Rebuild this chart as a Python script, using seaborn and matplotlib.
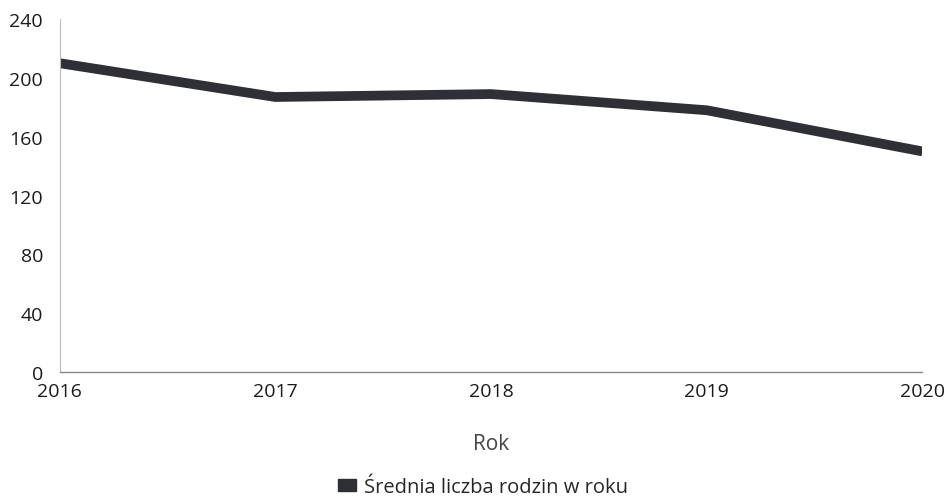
import pandas as pd
import numpy as np
import seaborn as sns
import matplotlib.pyplot as plt
from matplotlib.patches import Patch

lata = [2016, 2017, 2018, 2019, 2020]
rodziny = [210, 187, 189, 178, 150]
y_ticks = [0, 40, 80, 120, 160, 200, 240]

data = pd.DataFrame({"Rok": lata, "Rodziny": rodziny})

sns.set_style("white")
plt.rcParams['font.family'] = ['Open Sans', 'DejaVu Sans']

fig = plt.figure(figsize=(9.47, 5.02), dpi=100)
ax = fig.add_axes([0.063, 0.257, 0.911, 0.703])

sns.lineplot(x="Rok", y="Rodziny", data=data, ax=ax, color="#2f2f36", linewidth=7,
             solid_capstyle="butt")

ax.set_xlim(2016, 2020)
ax.set_ylim(0, 240)
ax.set_xticks(lata)
ax.set_yticks(y_ticks)
ax.tick_params(axis="both", length=0, labelsize=14, colors="#1a1a1a")
ax.tick_params(axis="x", pad=7)
ax.tick_params(axis="y", pad=12)

for s in ["top", "right"]:
    ax.spines[s].set_visible(False)
ax.spines["left"].set_color("#bbbbbb")
ax.spines["left"].set_linewidth(0.8)
ax.spines["bottom"].set_color("#888888")
ax.spines["bottom"].set_linestyle((0, (1, 1)))
ax.spines["bottom"].set_linewidth(1.0)

ax.set_xlabel("Rok", fontsize=15, color="#444444", labelpad=24)
ax.set_ylabel("")

handle = Patch(facecolor="#2f2f36", edgecolor="#2f2f36", label="Średnia liczba rodzin w roku")
fig.legend(handles=[handle], loc="center", bbox_to_anchor=(0.51, 0.028), frameon=False,
           fontsize=14.5, handlelength=0.9, handleheight=0.5, handletextpad=0.4)

plt.savefig("out.png", dpi=100)
